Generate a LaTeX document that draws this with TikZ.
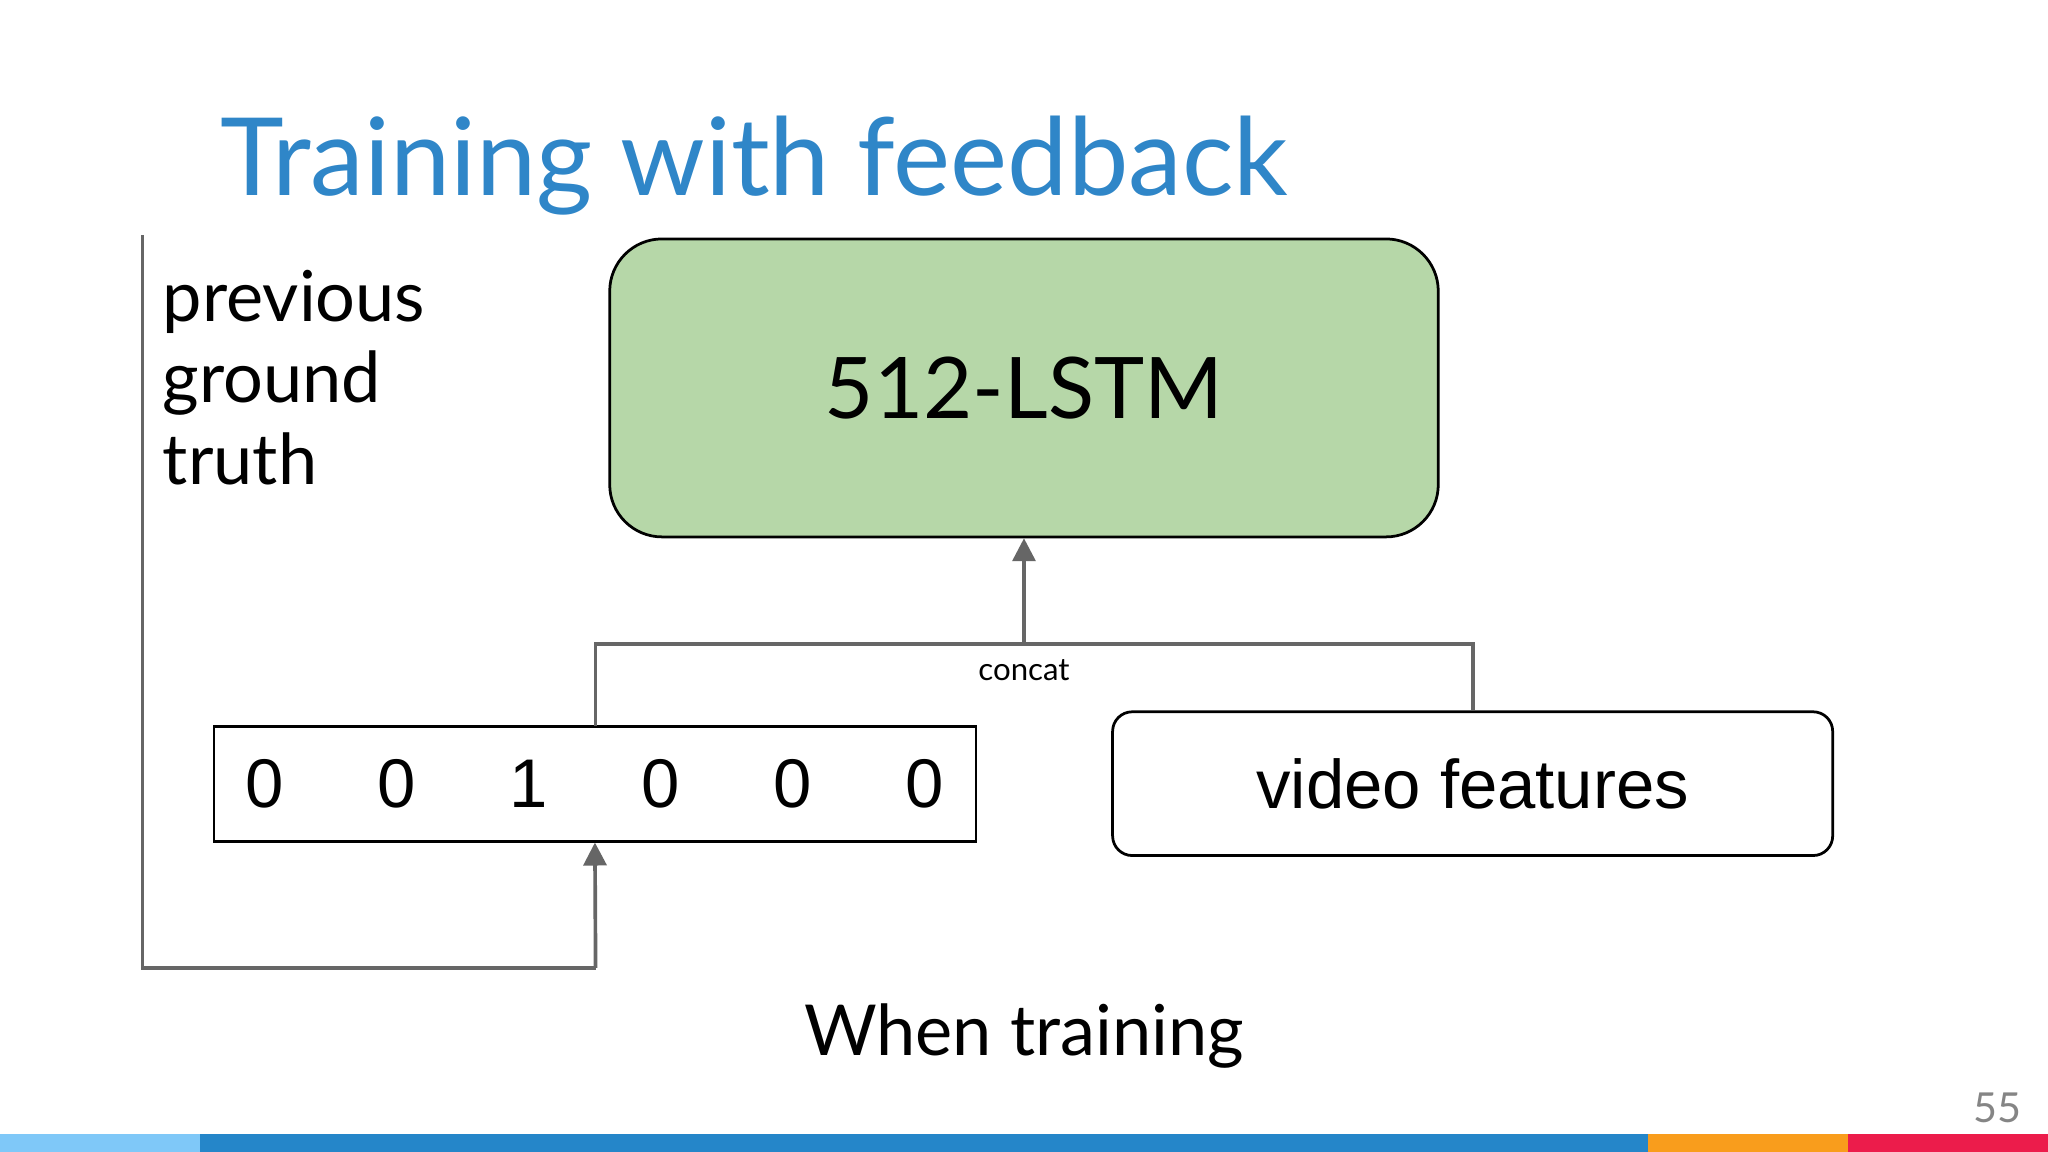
\documentclass[tikz,border=0pt]{standalone}
\usepackage{fontspec}
\setmainfont{Lato}
\newfontfamily\arialf{Liberation Sans}
\usetikzlibrary{arrows.meta}
\definecolor{titleblue}{HTML}{2F86C8}
\definecolor{boxgreen}{HTML}{B6D7A8}
\definecolor{linegray}{HTML}{666666}
\definecolor{barA}{HTML}{7FC8F8}
\definecolor{barB}{HTML}{2586C9}
\definecolor{barC}{HTML}{F99D1C}
\definecolor{barD}{HTML}{EC1C4B}
\tikzset{
  conn/.style={draw=linegray,line width=0.8pt},
  arr/.style={conn,-{Triangle[length=5pt,width=5pt]}},
  digit/.style={font=\arialf\fontsize{15}{18}\selectfont},
}
\begin{document}
\begin{tikzpicture}[x=0.01cm,y=-0.01cm]
\fill[white] (0,0) rectangle (1568,882);
\useasboundingbox (0,0) rectangle (1568,882);
\node[anchor=base west,inner sep=0,text=titleblue,font=\fontsize{23.5}{28}\selectfont] (title) at (168,150) {Training with feedback};
\node[draw=black,fill=boxgreen,rounded corners=0.4cm,line width=0.6pt,minimum width=6.34cm,minimum height=2.28cm,font=\fontsize{18.5}{22}\selectfont] (lstm) at (784,297) {512-LSTM};
\node[draw=black,line width=0.6pt,minimum width=5.83cm,minimum height=0.88cm] (vec) at (455.5,600) {};
\foreach \x/\d [count=\i] in {203/0,304/0,405/1,506/0,607/0,708/0}{
  \node[digit] (d\i) at (\x,600) {\d};
}
\node[draw=black,rounded corners=0.15cm,line width=0.6pt,minimum width=5.51cm,minimum height=1.10cm,font=\arialf\fontsize{15}{18}\selectfont] (video) at (1127.5,600) {video features};
\coordinate (vt) at (456,556);
\coordinate (j1) at (456,493);
\coordinate (j2) at (1128,493);
\coordinate (mid) at (784,493);
\draw[conn] (vt) -- (j1) -- (j2) -- (video.north -| j2);
\draw[arr] (mid) -- (lstm.south);
\node[font=\fontsize{6.8}{8}\selectfont] (concat) at (784,513) {concat};
\coordinate (f0) at (109,180);
\coordinate (f1) at (109,741);
\coordinate (f2) at (456,741);
\draw[conn] (f0) -- (f1) -- (f2);
\draw[arr] (f2) -- (vec.south);
\node[anchor=north west,align=left,inner sep=0,font=\fontsize{15.3}{17.8}\selectfont] (prev) at (124,206) {previous\\ground\\truth};
\node[font=\fontsize{15.3}{18}\selectfont] (when) at (784,793) {When training};
\node[text=linegray!80,font=\fontsize{9}{10}\selectfont] (pg) at (1529,848) {55};
\fill[barA] (0,868) rectangle (153,882);
\fill[barB] (153,868) rectangle (1262,882);
\fill[barC] (1262,868) rectangle (1415,882);
\fill[barD] (1415,868) rectangle (1568,882);
\end{tikzpicture}
\end{document}
